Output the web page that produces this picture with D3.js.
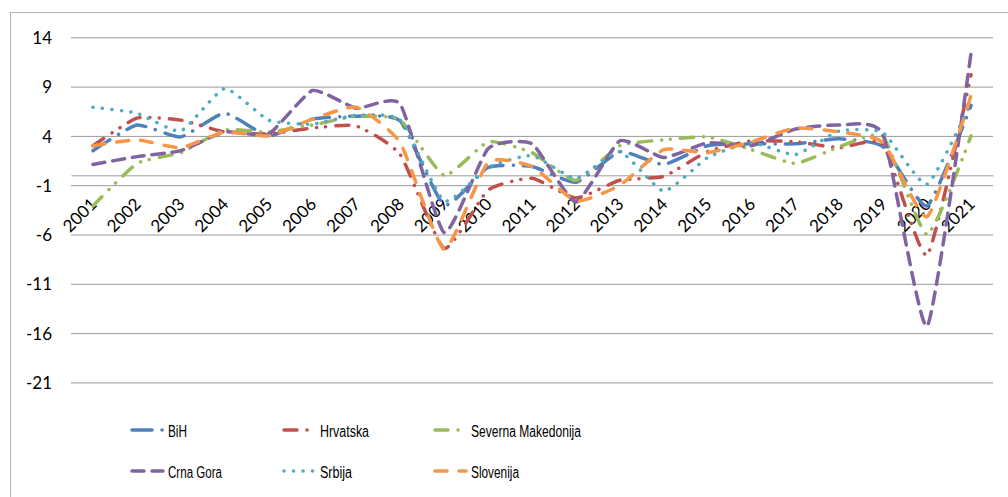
<!DOCTYPE html>
<html>
<head>
<meta charset="utf-8">
<script src="https://cdnjs.cloudflare.com/ajax/libs/d3/7.8.5/d3.min.js"></script>
<style>
  html, body { margin: 0; padding: 0; background: #ffffff; }
  svg { display: block; }
  .axis text { font-family: Lato, "Liberation Sans", sans-serif; font-size: 17px; fill: #000; }
  .legend text { font-family: "Liberation Sans", Arial, sans-serif; font-size: 16px; fill: #000; }
</style>
</head>
<body>
<svg id="chart" width="1008" height="497"></svg>
<script>
const years = ["2001","2002","2003","2004","2005","2006","2007","2008","2009","2010","2011","2012","2013","2014","2015","2016","2017","2018","2019","2020","2021"];
const yTicks = [14, 9, 4, -1, -6, -11, -16, -21];

const bih      = [2.5, 5.1, 3.9, 6.3, 4.0, 5.7, 6.0, 5.5, -3.0, 0.8, 0.9, -0.7, 2.4, 1.1, 3.0, 3.2, 3.2, 3.7, 2.9, -3.1, 7.1];
const hrvatska = [3.0, 5.8, 5.6, 4.4, 4.2, 4.8, 5.0, 2.1, -7.4, -1.5, -0.3, -2.3, -0.5, -0.1, 2.4, 3.5, 3.4, 2.8, 3.1, -8.1, 10.2];
const makedonija = [-3.1, 1.2, 2.3, 4.6, 4.4, 5.1, 6.0, 5.6, 0.0, 3.4, 2.3, -0.5, 3.0, 3.6, 3.9, 2.6, 1.2, 2.9, 3.9, -6.0, 4.0];
const crnaGora = [1.1, 1.9, 2.5, 4.4, 4.2, 8.6, 6.8, 7.2, -5.8, 2.7, 3.2, -2.7, 3.5, 1.8, 3.3, 3.0, 4.7, 5.1, 4.1, -15.3, 12.4];
const srbija   = [6.9, 6.3, 4.5, 8.8, 5.6, 5.2, 6.1, 5.6, -2.6, 0.8, 2.0, -0.3, 2.4, -1.6, 1.8, 3.3, 2.1, 4.5, 4.3, -0.9, 7.4];
const slovenija = [3.0, 3.6, 2.8, 4.4, 4.0, 5.7, 6.9, 3.3, -7.5, 1.3, 0.9, -2.6, -1.0, 2.6, 2.3, 3.4, 4.8, 4.4, 3.3, -4.2, 8.1];

const seriesNames = ["BiH", "Hrvatska", "Severna Makedonija", "Crna Gora", "Srbija", "Slovenija"];
const seriesValues = [bih, hrvatska, makedonija, crnaGora, srbija, slovenija];
const seriesColors = ["#4F81BD", "#C0504D", "#9BBB59", "#8064A2", "#4BACC6", "#F79646"];
const seriesDash = ["20 10 0.1 10", "13 10 0.1 9 0.1 10", "13 10 0.1 9 0.1 10", "12 8", "0.1 9.4", "12 12"];
const legendTextWidth = [19, 49, 110, 54, 32, 48];

const svg = d3.select("#chart");

// outer chart border
svg.append("rect").attr("x", 10.5).attr("y", 12.5).attr("width", 1010).attr("height", 500)
  .attr("fill", "none").attr("stroke", "#b4b4b4").attr("stroke-width", 1);

const x = d3.scaleBand().domain(years).range([71, 993]).paddingInner(0).paddingOuter(0);
const y = d3.scaleLinear().domain([-21, 14]).range([382.4, 37.3]);
const cx = d => x(d) + x.bandwidth() / 2;

// y axis with gridlines
const yAxis = svg.append("g").attr("class", "axis")
  .attr("transform", "translate(71,0)")
  .call(d3.axisLeft(y).tickValues(yTicks).tickSize(-922).tickPadding(19).tickFormat(d3.format("d")));
yAxis.select(".domain").remove();
yAxis.selectAll(".tick line").attr("stroke", "#9a9a9a").attr("stroke-width", 1);
yAxis.selectAll(".tick text").attr("dy", "0.36em").text(d => d < 0 ? "-" + Math.abs(d) : d);

// x axis at zero
const xAxis = svg.append("g").attr("class", "axis")
  .attr("transform", `translate(0,${y(0)})`)
  .call(d3.axisBottom(x).tickSize(0));
xAxis.select(".domain").attr("stroke", "#9a9a9a").attr("stroke-width", 1);
xAxis.selectAll(".tick text")
  .attr("x", 0).attr("y", 0).attr("dy", 0)
  .attr("text-anchor", "end")
  .attr("transform", "translate(5,30) rotate(-45)");

// series lines
const line = d3.line()
  .x((d, i) => cx(years[i]))
  .y(d => y(d))
  .curve(d3.curveCardinal.tension(0.5));

const lines = svg.append("g");
seriesValues.forEach((vals, k) => {
  lines.append("path")
    .datum(vals)
    .attr("d", line)
    .attr("fill", "none")
    .attr("stroke", seriesColors[k])
    .attr("stroke-width", 3.5)
    .attr("stroke-linecap", "round")
    .attr("stroke-linejoin", "round")
    .attr("stroke-dasharray", seriesDash[k]);
});

// legend
const legX = [130, 282, 433];
const legY = [430, 471];
const legend = svg.append("g").attr("class", "legend");
seriesNames.forEach((name, k) => {
  const col = k % 3, row = Math.floor(k / 3);
  const g = legend.append("g").attr("transform", `translate(${legX[col]},${legY[row]})`);
  g.append("line").attr("x1", 2).attr("x2", 33).attr("y1", 0).attr("y2", 0)
    .attr("stroke", seriesColors[k]).attr("stroke-width", 3.5)
    .attr("stroke-linecap", "round")
    .attr("stroke-dasharray", seriesDash[k]);
  g.append("text").attr("x", 38).attr("y", 7)
    .attr("textLength", legendTextWidth[k]).attr("lengthAdjust", "spacingAndGlyphs")
    .text(name);
});
</script>
</body>
</html>
